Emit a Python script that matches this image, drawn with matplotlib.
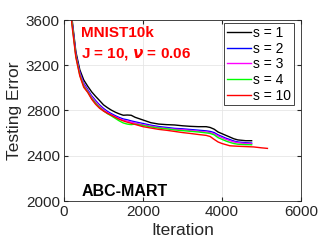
import matplotlib
matplotlib.use("Agg")
import matplotlib.pyplot as plt

it_a = [100, 200, 300, 400, 500, 600, 700, 800, 900, 1000, 1100, 1200, 1300, 1400, 1500, 1600,
        1700, 1800, 2000, 2200, 2400, 2600, 2800, 3000, 3200, 3400, 3600, 3700, 3800, 3900, 4000,
        4100, 4200, 4300, 4400, 4600, 4750]
it_red = it_a[:-1] + [4800, 5000, 5150]

s1 = [4100, 3620, 3320, 3160, 3070, 3015, 2965, 2925, 2888, 2850, 2825, 2803, 2785, 2770, 2758, 2760,
      2758, 2740, 2716, 2692, 2680, 2675, 2672, 2665, 2660, 2657, 2657, 2650, 2635, 2610, 2595,
      2580, 2565, 2550, 2540, 2533, 2533]
s2 = [4080, 3600, 3300, 3140, 3040, 2985, 2930, 2888, 2850, 2818, 2792, 2772, 2754, 2738, 2725, 2718,
      2708, 2700, 2685, 2670, 2658, 2650, 2642, 2638, 2632, 2626, 2620, 2615, 2605, 2585, 2570,
      2555, 2543, 2530, 2522, 2515, 2512]
s3 = [4070, 3590, 3290, 3130, 3030, 2975, 2920, 2878, 2840, 2808, 2782, 2762, 2744, 2728, 2715, 2708,
      2698, 2690, 2675, 2662, 2650, 2642, 2635, 2630, 2624, 2617, 2610, 2605, 2595, 2575, 2560,
      2545, 2533, 2522, 2515, 2508, 2506]
s4 = [4060, 3580, 3280, 3115, 3015, 2965, 2908, 2865, 2828, 2798, 2772, 2752, 2730, 2708, 2690, 2680,
      2675, 2680, 2668, 2655, 2645, 2638, 2628, 2622, 2616, 2610, 2602, 2597, 2585, 2560, 2545,
      2530, 2518, 2508, 2502, 2498, 2497]
s10 = [4050, 3560, 3270, 3105, 3005, 2960, 2900, 2855, 2820, 2795, 2775, 2758, 2740, 2722, 2708, 2697,
       2687, 2677, 2657, 2645, 2633, 2625, 2615, 2605, 2597, 2588, 2580, 2570, 2545, 2522, 2508,
       2498, 2488, 2486, 2484, 2481, 2478, 2470, 2465]

labels = ["s = 1", "s = 2", "s = 3", "s = 4", "s = 10"]
colors = ["black", "#0000ff", "#ff00ff", "#00ff00", "#ff0000"]

plt.rcParams['font.family'] = ['Liberation Sans', 'DejaVu Sans']
fig = plt.figure(figsize=(3.32, 2.49), dpi=100)
ax = fig.add_axes([64/332, 1-201/249, 237/332, 181/249])

series = [(it_a, s1), (it_a, s2), (it_a, s3), (it_a, s4), (it_red, s10)]
for (x, y), c, lab in zip(series, colors, labels):
    ax.plot(x, y, color=c, lw=1.0, label=lab)

ax.set_xlim(0, 6000)
ax.set_ylim(2000, 3600)
ax.set_xticks([0, 2000, 4000, 6000])
ax.set_yticks([2000, 2400, 2800, 3200, 3600])
ax.tick_params(direction='in', labelsize=11, colors='#262626', length=3, top=True, right=True,
               pad=3)
ax.grid(True, color='#e6e6e6', lw=0.6)
ax.set_axisbelow(True)
for sp in ax.spines.values():
    sp.set_color('#262626')
    sp.set_linewidth(0.6)
ax.set_xlabel("Iteration", fontsize=12.5, color='#262626', labelpad=3)
ax.set_ylabel("Testing Error", fontsize=12.5, color='#262626', labelpad=3)

ax.text(0.07, 0.93, "MNIST10k", transform=ax.transAxes, color='red',
        fontsize=11, fontweight='bold', va='center')
ax.text(0.07, 0.81, r"J = 10, $\boldsymbol{\nu}$ = 0.06", transform=ax.transAxes, color='red',
        fontsize=11, fontweight='bold', va='center')
ax.text(0.075, 0.05, "ABC-MART", transform=ax.transAxes, color='black',
        fontsize=11.5, fontweight='bold', va='center')

leg = ax.legend(loc='upper right', fontsize=10, handlelength=1.75, handletextpad=0.15,
                borderpad=0.2, labelspacing=0.12, fancybox=False, framealpha=1,
                edgecolor='#262626', bbox_to_anchor=(0.970, 0.983), borderaxespad=0)
leg.get_frame().set_linewidth(0.6)

fig.savefig("out.png", dpi=100)
